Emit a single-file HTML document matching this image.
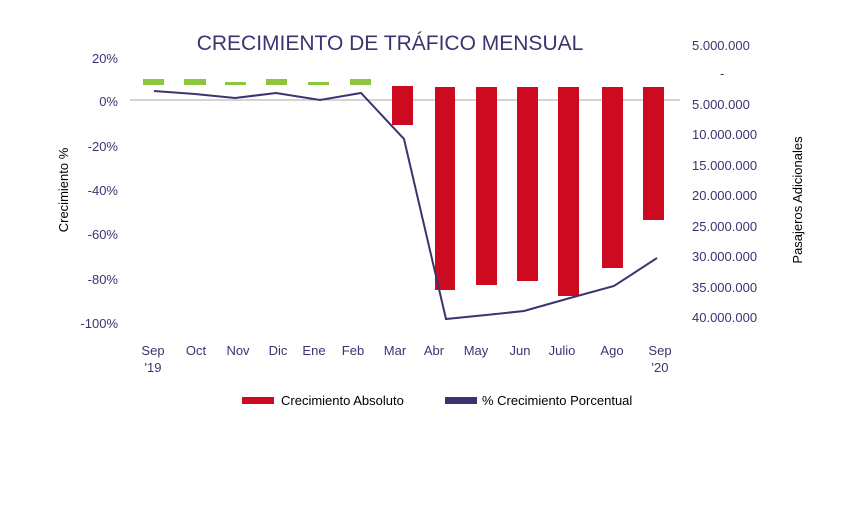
<!DOCTYPE html>
<html><head><meta charset="utf-8"><style>
body{margin:0;background:#fff;}
text{font-family:"Liberation Sans",sans-serif;fill:#3b3470;}
</style></head><body>
<svg width="850" height="500" xmlns="http://www.w3.org/2000/svg">
<text x="390" y="50" text-anchor="middle" font-size="21" fill="#3b3470">CRECIMIENTO DE TRÁFICO MENSUAL</text>
<g font-size="13" text-anchor="end">
<text x="118" y="63">20%</text><text x="118" y="106">0%</text><text x="118" y="151">-20%</text>
<text x="118" y="195">-40%</text><text x="118" y="239">-60%</text><text x="118" y="284">-80%</text><text x="118" y="328">-100%</text>
</g>
<g font-size="13">
<text x="692" y="50">5.000.000</text><text x="720" y="78">-</text><text x="692" y="109">5.000.000</text>
<text x="692" y="139">10.000.000</text><text x="692" y="170">15.000.000</text><text x="692" y="200">20.000.000</text>
<text x="692" y="231">25.000.000</text><text x="692" y="261">30.000.000</text><text x="692" y="292">35.000.000</text>
<text x="692" y="322">40.000.000</text>
</g>
<text transform="translate(68,190) rotate(-90)" text-anchor="middle" font-size="13" style="fill:#000">Crecimiento %</text>
<text transform="translate(802,200) rotate(-90)" text-anchor="middle" font-size="13" style="fill:#000">Pasajeros Adicionales</text>
<line x1="130" y1="100" x2="680" y2="100" stroke="#aaa" stroke-width="1"/>
<g fill="#8cc63f">
<rect x="143" y="79" width="21" height="6"/><rect x="184" y="79" width="22" height="6"/>
<rect x="225" y="82" width="21" height="3"/><rect x="266" y="79" width="21" height="6"/>
<rect x="308" y="82" width="21" height="3"/><rect x="350" y="79" width="21" height="6"/>
</g>
<g fill="#cc0a20">
<rect x="392" y="86" width="21" height="39"/><rect x="435" y="87" width="20" height="203"/>
<rect x="476" y="87" width="21" height="198"/><rect x="517" y="87" width="21" height="194"/>
<rect x="558" y="87" width="21" height="209"/><rect x="602" y="87" width="21" height="181"/>
<rect x="643" y="87" width="21" height="133"/>
</g>
<polyline fill="none" stroke="#3b3470" stroke-width="2" points="154,91 195,94 235,98 276,93 320,100 361,93 404,139 446,319 486,315 524,311 570,298 614,286 657,258"/>
<g font-size="13" text-anchor="middle">
<text x="153" y="355">Sep</text><text x="153" y="372">'19</text><text x="196" y="355">Oct</text>
<text x="238" y="355">Nov</text><text x="278" y="355">Dic</text><text x="314" y="355">Ene</text>
<text x="353" y="355">Feb</text><text x="395" y="355">Mar</text><text x="434" y="355">Abr</text>
<text x="476" y="355">May</text><text x="520" y="355">Jun</text><text x="562" y="355">Julio</text>
<text x="612" y="355">Ago</text><text x="660" y="355">Sep</text><text x="660" y="372">'20</text>
</g>
<rect x="242" y="397" width="32" height="7" fill="#cc0a20"/>
<text x="281" y="405" font-size="13" style="fill:#000">Crecimiento Absoluto</text>
<rect x="445" y="397" width="32" height="7" fill="#3b3470"/>
<text x="482" y="405" font-size="13" style="fill:#000">% Crecimiento Porcentual</text>
</svg>
</body></html>
